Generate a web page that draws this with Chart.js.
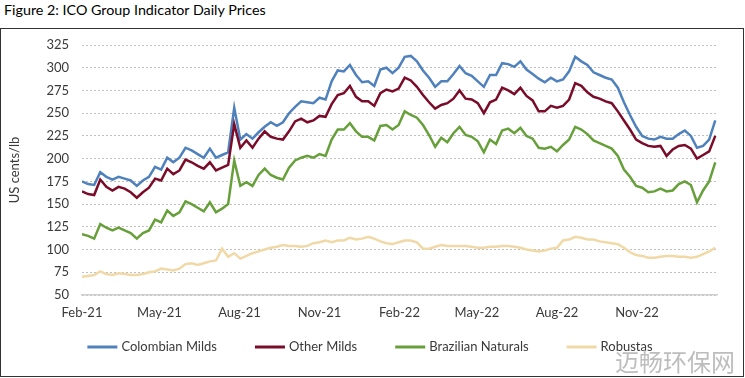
<!DOCTYPE html>
<html><head><meta charset="utf-8">
<script src="https://cdn.jsdelivr.net/npm/chart.js@4.4.1/dist/chart.umd.min.js"></script>
<style>
html,body{margin:0;padding:0;background:#fff;width:745px;height:378px;overflow:hidden;font-family:Lato,sans-serif;}
#title{position:absolute;left:4px;top:1px;font-size:14.3px;color:#000;white-space:nowrap;}
#frame{position:absolute;left:0;top:28px;width:744px;height:349px;border:1.5px solid #333;box-sizing:border-box;}
#wm{position:absolute;left:615px;top:344px;font-family:"Noto Sans CJK SC",sans-serif;font-size:24px;line-height:34px;color:#bdbdbd;white-space:nowrap;}
canvas{position:absolute;left:0;top:0;}
</style></head>
<body>
<div id="title">Figure 2: ICO Group Indicator Daily Prices</div>
<div id="frame"></div>
<canvas id="c" width="745" height="378"></canvas>
<div id="wm">迈畅环保网</div>
<script>
// x-axis tick positions (days after 1 Feb 2021) and labels
const tickDays = [0, 89, 181, 273, 365, 454, 546, 638];
const tickLabels = ['Feb-21','May-21','Aug-21','Nov-21','Feb-22','May-22','Aug-22','Nov-22'];
const seriesNames = ['Colombian Milds','Other Milds','Brazilian Naturals','Robustas'];

// weekly readings (US cents/lb), first week = 1 Feb 2021
const colombianMilds = [
175,172,171,185,180,177,180,178,176,170,
176,180,191,188,201,196,201,212,209,205,
201,211,201,204,207,256,221,227,222,229,
235,240,236,240,250,257,263,262,261,267,
265,285,297,296,303,292,284,285,280,298,
300,294,300,312,313,307,297,289,279,285,
285,293,302,294,291,285,279,292,292,305,
304,301,307,298,293,288,284,289,285,287,
296,312,307,303,295,292,289,287,278,262,
248,235,225,222,221,224,222,222,227,231,
225,212,214,221,242];
const otherMilds = [
164,161,160,177,169,165,169,167,163,157,
163,168,178,176,189,183,187,199,196,192,
189,196,187,190,193,238,212,220,212,222,
230,224,222,221,230,241,244,240,242,247,
246,260,270,272,280,268,263,263,258,272,
276,274,277,289,286,279,270,262,255,259,
261,266,275,266,265,261,250,262,265,278,
275,271,278,269,264,252,252,258,256,258,
265,283,280,273,268,266,263,261,252,242,
232,221,217,214,213,214,203,210,214,215,
211,200,204,208,225];
const brazilianNaturals = [
117,115,112,128,124,121,124,121,118,112,
118,121,133,130,143,137,141,153,150,146,
142,152,141,145,150,198,170,174,170,182,
189,182,179,177,190,198,201,203,201,205,
203,221,232,232,239,230,224,224,220,236,
237,232,237,252,248,245,237,226,213,223,
218,228,235,226,224,219,207,221,216,231,
233,228,234,225,222,212,211,213,208,215,
221,235,232,227,220,217,214,211,203,188,
180,170,168,163,164,167,164,165,172,175,
171,152,165,175,196];
const robustas = [
70,71,72,76,73,72,74,73,72,72,
73,75,76,79,78,77,79,84,85,83,
85,87,88,101,92,96,90,93,96,98,
100,102,103,105,104,104,103,104,107,108,
110,108,110,110,113,111,112,114,112,109,
107,106,108,110,110,108,101,101,103,105,
104,104,104,104,103,102,102,103,103,104,
104,103,102,100,99,98,99,101,102,110,
111,114,113,111,111,109,108,107,106,102,
97,94,93,91,91,92,93,93,92,92,
91,92,95,98,102];

const seriesValues = [colombianMilds, otherMilds, brazilianNaturals, robustas];
const seriesColors = ['#4F81BD', '#7A0C2A', '#67A03A', '#F0D9A6'];
const weekDays = colombianMilds.map((_, i) => i * 7);

const FONT = 'Lato';
const TXT = '#3a3a3a';

const legendPlugin = {
  id: 'bottomLegend',
  afterDraw(chart) {
    const ctx = chart.ctx;
    ctx.save();
    ctx.font = '13px ' + FONT;
    const lineW = 30, gapText = 4, gapItem = 38;
    const items = chart.data.datasets.map(ds => ({label: ds.label, color: ds.borderColor, w: ctx.measureText(ds.label).width}));
    const total = items.reduce((s, it) => s + lineW + gapText + it.w, 0) + gapItem * (items.length - 1);
    let x = 370 - total / 2;
    const y = 347;
    ctx.textBaseline = 'middle';
    ctx.textAlign = 'left';
    items.forEach(it => {
      ctx.strokeStyle = it.color; ctx.lineWidth = 3;
      ctx.beginPath(); ctx.moveTo(x, y); ctx.lineTo(x + lineW, y); ctx.stroke();
      x += lineW + gapText;
      ctx.fillStyle = TXT;
      ctx.fillText(it.label, x, y);
      x += it.w + gapItem;
    });
    ctx.restore();
  }
};

new Chart(document.getElementById('c'), {
  type: 'line',
  data: {
    datasets: seriesNames.map((name, k) => ({
      label: name,
      data: seriesValues[k].map((v, i) => ({x: weekDays[i], y: v})),
      borderColor: seriesColors[k],
      backgroundColor: seriesColors[k],
      borderWidth: 2.5,
      pointRadius: 0,
      tension: 0,
      order: 4 - k
    }))
  },
  options: {
    responsive: false,
    animation: false,
    devicePixelRatio: 1,
    layout: {padding: {left: 3, right: 28, top: 45, bottom: 0}},
    plugins: {legend: {display: false}, tooltip: {enabled: false}},
    scales: {
      x: {
        type: 'linear', min: 0, max: 730,
        afterBuildTicks: s => { s.ticks = tickDays.map(v => ({value: v})); },
        ticks: {callback: (v, i) => tickLabels[i], padding: 10, maxRotation: 0, autoSkip: false, color: TXT, font: {family: FONT, size: 13}},
        grid: {display: false, drawTicks: false},
        border: {display: true, color: '#d0d0d0', width: 1.5},
        afterFit: s => { s.height = 83; }
      },
      y: {
        min: 50, max: 325,
        ticks: {stepSize: 25, padding: 13, color: TXT, font: {family: FONT, size: 13}},
        grid: {color: '#bfbfbf', lineWidth: 1, drawTicks: false},
        border: {display: false, dash: [2, 2]},
        title: {display: true, text: 'US cents/lb', color: TXT, font: {family: FONT, size: 13}, padding: {top: 4, bottom: 4}},
        afterFit: s => { s.width = 79; }
      }
    }
  },
  plugins: [legendPlugin]
});
</script>
</body></html>
